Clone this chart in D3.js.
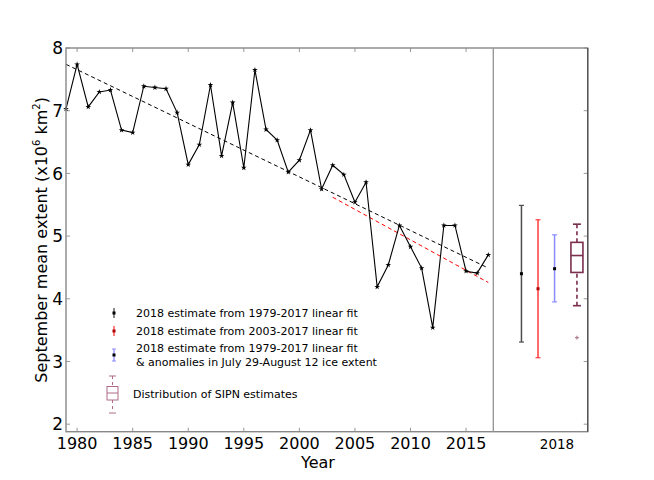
<!DOCTYPE html>
<html>
<head>
<meta charset="utf-8">
<script src="https://d3js.org/d3.v7.min.js"></script>
<style>
  body { margin: 0; background: white; }
  svg { font-family: "DejaVu Sans", sans-serif; }
</style>
</head>
<body>
<script>
// September extent
const years = d3.range(1979, 2018);
const extent = [7.03, 7.74, 7.06, 7.30, 7.33, 6.69, 6.65, 7.39, 7.37, 7.35,
    6.97, 6.14, 6.46, 7.41, 6.28, 7.13, 6.09, 7.65, 6.70, 6.53,
    6.02, 6.21, 6.69, 5.75, 6.13, 5.98, 5.54, 5.86, 4.19, 4.54,
    5.17, 4.83, 4.49, 3.54, 5.17, 5.17, 4.44, 4.41, 4.70];

// linear fits (end points)
const fitAll = [[1979, 7.74], [2017, 4.49]];
const fitRecent = [[2003, 5.62], [2017, 4.26]];

// 2018 estimates: position, centre, low, high
const estPos = [1.7, 2.7, 3.7];
const estMid = [4.40, 4.16, 4.48];
const estLow = [3.31, 3.06, 3.95];
const estHigh = [5.49, 5.26, 5.02];
const estColors = ["#4d4d4d", "#ff3b3b", "#8c8cff"];

// SIPN box: whisker low, q1, median, q3, whisker high, outlier
const boxPos = 5.05;
const sipn = [3.89, 4.42, 4.69, 4.90, 5.19];
const sipnOutliers = [3.38];
const boxColor = "#7a2f4e";

const yTicks = [2, 3, 4, 5, 6, 7, 8];
const xTicks = [1980, 1985, 1990, 1995, 2000, 2005, 2010, 2015];

const legendLabels = [
    ["2018 estimate from 1979-2017 linear fit"],
    ["2018 estimate from 2003-2017 linear fit"],
    ["2018 estimate from 1979-2017 linear fit", "& anomalies in July 29-August 12 ice extent"],
    ["Distribution of SIPN estimates"]
];

const W = 654, H = 480;
const pLeft = 66, pSplit = 493.3, pRight = 587.7, pTop = 48, pBottom = 431.7;

const svg = d3.select("body").append("svg")
    .attr("width", W)
    .attr("height", H);

const x = d3.scaleLinear().domain([1979, 2017.45]).range([pLeft, pSplit]);
const x2 = d3.scaleLinear().domain([0, 5.7]).range([pSplit, pRight]);
const y = d3.scaleLinear().domain([1.88, 8.0]).range([pBottom, pTop]);

// ticks, pointing inwards
const tickCol = "#999";
svg.append("g").selectAll("line")
    .data(yTicks)
    .enter().append("line")
    .attr("x1", pLeft).attr("x2", pLeft + 4)
    .attr("y1", d => y(d)).attr("y2", d => y(d))
    .attr("stroke", tickCol);
svg.append("g").selectAll("line")
    .data(yTicks)
    .enter().append("line")
    .attr("x1", pRight - 4).attr("x2", pRight)
    .attr("y1", d => y(d)).attr("y2", d => y(d))
    .attr("stroke", tickCol);
svg.append("g").selectAll("line")
    .data(xTicks)
    .enter().append("line")
    .attr("x1", d => x(d)).attr("x2", d => x(d))
    .attr("y1", pTop).attr("y2", pTop + 4)
    .attr("stroke", tickCol);
svg.append("g").selectAll("line")
    .data(xTicks)
    .enter().append("line")
    .attr("x1", d => x(d)).attr("x2", d => x(d))
    .attr("y1", pBottom - 4).attr("y2", pBottom)
    .attr("stroke", tickCol);

// tick labels
svg.append("g").selectAll("text")
    .data(yTicks)
    .enter().append("text")
    .attr("x", pLeft - 3)
    .attr("y", d => y(d))
    .attr("dy", "0.36em")
    .attr("text-anchor", "end")
    .style("font-size", "17px")
    .text(d => d);
svg.append("g").selectAll("text")
    .data(xTicks)
    .enter().append("text")
    .attr("x", d => x(d))
    .attr("y", pBottom + 17)
    .attr("text-anchor", "middle")
    .style("font-size", "16px")
    .text(d => d);
svg.append("text")
    .attr("x", 557)
    .attr("y", pBottom + 17)
    .attr("text-anchor", "middle")
    .style("font-size", "13.5px")
    .text("2018");

// axis titles
svg.append("text")
    .attr("x", 318)
    .attr("y", 468)
    .attr("text-anchor", "middle")
    .style("font-size", "16px")
    .text("Year");
const yl = svg.append("text")
    .attr("transform", "translate(47," + ((pTop + pBottom) / 2) + ") rotate(-90)")
    .attr("text-anchor", "middle")
    .style("font-size", "16px");
yl.append("tspan").text("September mean extent (x10");
yl.append("tspan").attr("dy", -7).style("font-size", "10px").text("6");
yl.append("tspan").attr("dy", 7).text(" km");
yl.append("tspan").attr("dy", -7).style("font-size", "10px").text("2");
yl.append("tspan").attr("dy", 7).text(")");

// trend lines
const line = d3.line().x(d => x(d[0])).y(d => y(d[1]));
svg.append("path")
    .attr("d", line(fitAll))
    .attr("fill", "none")
    .attr("stroke", "black")
    .attr("stroke-dasharray", "4,3");
svg.append("path")
    .attr("d", line(fitRecent))
    .attr("fill", "none")
    .attr("stroke", "red")
    .attr("stroke-dasharray", "4,3");

// observed extent
const series = years.map((yr, i) => [yr, extent[i]]);
svg.append("path")
    .attr("d", line(series))
    .attr("fill", "none")
    .attr("stroke", "black")
    .attr("stroke-width", 1.1);
svg.append("g").selectAll("path")
    .data(series)
    .enter().append("path")
    .attr("transform", d => "translate(" + x(d[0]) + "," + y(d[1]) + ")")
    .attr("d", d3.symbol().type(d3.symbolStar).size(10))
    .attr("fill", "black");

// 2018 error bars
const eb = svg.append("g");
estPos.forEach((p, i) => {
    const cx = x2(p);
    eb.append("line")
        .attr("x1", cx).attr("x2", cx)
        .attr("y1", y(estLow[i])).attr("y2", y(estHigh[i]))
        .attr("stroke", estColors[i]).attr("stroke-width", 1.5);
    [estLow[i], estHigh[i]].forEach(v => {
        eb.append("line")
            .attr("x1", cx - 2.5).attr("x2", cx + 2.5)
            .attr("y1", y(v)).attr("y2", y(v))
            .attr("stroke", estColors[i]).attr("stroke-width", 1.2);
    });
    eb.append("rect")
        .attr("x", cx - 1.5).attr("y", y(estMid[i]) - 1.5)
        .attr("width", 3).attr("height", 3)
        .attr("fill", i == 1 ? "#b00000" : "black");
});

// SIPN box plot
const bx = x2(boxPos);
const bb = svg.append("g");
bb.append("line")
    .attr("x1", bx).attr("x2", bx)
    .attr("y1", y(sipn[0])).attr("y2", y(sipn[1]))
    .attr("stroke", boxColor).attr("stroke-width", 1.6)
    .attr("stroke-dasharray", "4,3");
bb.append("line")
    .attr("x1", bx).attr("x2", bx)
    .attr("y1", y(sipn[3])).attr("y2", y(sipn[4]))
    .attr("stroke", boxColor).attr("stroke-width", 1.6)
    .attr("stroke-dasharray", "4,3");
[sipn[0], sipn[4]].forEach(v => {
    bb.append("line")
        .attr("x1", bx - 4).attr("x2", bx + 4)
        .attr("y1", y(v)).attr("y2", y(v))
        .attr("stroke", boxColor).attr("stroke-width", 1.6);
});
bb.append("rect")
    .attr("x", bx - 6).attr("y", y(sipn[3]))
    .attr("width", 12).attr("height", y(sipn[1]) - y(sipn[3]))
    .attr("fill", "none")
    .attr("stroke", boxColor).attr("stroke-width", 1.6);
bb.append("line")
    .attr("x1", bx - 6).attr("x2", bx + 6)
    .attr("y1", y(sipn[2])).attr("y2", y(sipn[2]))
    .attr("stroke", boxColor).attr("stroke-width", 1.6);
bb.selectAll("path")
    .data(sipnOutliers)
    .enter().append("path")
    .attr("transform", d => "translate(" + bx + "," + y(d) + ")")
    .attr("d", d3.symbol().type(d3.symbolCross).size(8))
    .attr("fill", "#b08090");

// frame
svg.append("rect")
    .attr("x", pLeft).attr("y", pTop)
    .attr("width", pRight - pLeft).attr("height", pBottom - pTop)
    .attr("fill", "none")
    .attr("stroke", "#888").attr("stroke-width", 1.4);
svg.append("line")
    .attr("x1", pRight).attr("x2", pRight)
    .attr("y1", pTop).attr("y2", pBottom)
    .attr("stroke", "#555").attr("stroke-width", 1.4);
svg.append("line")
    .attr("x1", pSplit).attr("x2", pSplit)
    .attr("y1", pTop).attr("y2", pBottom)
    .attr("stroke", "#999").attr("stroke-width", 1.4);

// legend
const lg = svg.append("g").style("font-size", "11px");
const lgY = [313, 331, 348, 394];
const lgX = 114;
[0, 1, 2].forEach(i => {
    const h = i == 2 ? 6 : 5;
    const c = lgY[i] + (i == 2 ? 7 : 0);
    lg.append("line")
        .attr("x1", lgX).attr("x2", lgX)
        .attr("y1", c - h).attr("y2", c + h)
        .attr("stroke", estColors[i]).attr("stroke-width", 1.3);
    if (i == 2) {
        [c - h, c + h].forEach(v => {
            lg.append("line")
                .attr("x1", lgX - 2).attr("x2", lgX + 2)
                .attr("y1", v).attr("y2", v)
                .attr("stroke", estColors[i]);
        });
    }
    lg.append("rect")
        .attr("x", lgX - 1.5).attr("y", c - 1.5)
        .attr("width", 3).attr("height", 3)
        .attr("fill", i == 1 ? "#b00000" : "black");
});
// box legend
const lbc = "#b06a88";
lg.append("line").attr("x1", 109).attr("x2", 116).attr("y1", 376).attr("y2", 376).attr("stroke", lbc);
lg.append("line").attr("x1", 112.5).attr("x2", 112.5).attr("y1", 376).attr("y2", 386.5)
    .attr("stroke", lbc).attr("stroke-dasharray", "3,3");
lg.append("rect").attr("x", 107).attr("y", 386.5).attr("width", 11).attr("height", 13.5)
    .attr("fill", "none").attr("stroke", lbc);
lg.append("line").attr("x1", 107).attr("x2", 118).attr("y1", 393).attr("y2", 393).attr("stroke", lbc);
lg.append("line").attr("x1", 112.5).attr("x2", 112.5).attr("y1", 400).attr("y2", 410)
    .attr("stroke", lbc).attr("stroke-dasharray", "3,3");
lg.append("line").attr("x1", 109).attr("x2", 116).attr("y1", 413).attr("y2", 413).attr("stroke", lbc);

legendLabels.forEach((lines, i) => {
    const tx = i == 3 ? 133 : 136;
    const t = lg.append("text")
        .attr("x", tx)
        .attr("y", lgY[i]);
    lines.forEach((s, j) => {
        t.append("tspan")
            .attr("x", tx)
            .attr("dy", j == 0 ? "0.35em" : "1.25em")
            .text(s);
    });
});
</script>
</body>
</html>
